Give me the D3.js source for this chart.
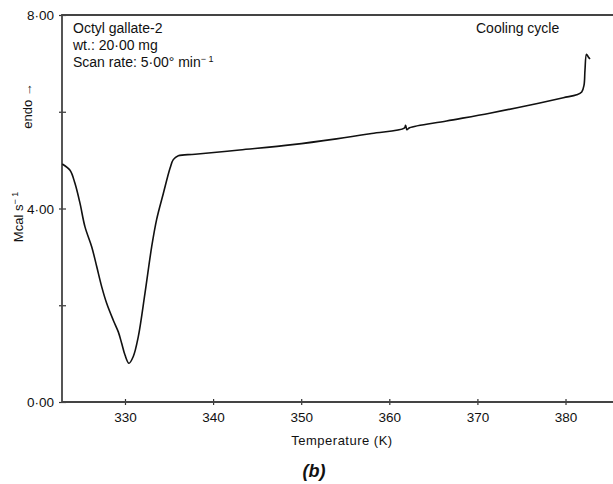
<!DOCTYPE html>
<html>
<head>
<meta charset="utf-8">
<title>Octyl gallate-2 cooling cycle</title>
<script src="https://cdnjs.cloudflare.com/ajax/libs/d3/7.8.5/d3.min.js"></script>
<style>
  body { margin: 0; background: #fff; }
  svg text { font-family: "Liberation Sans", Arial, Helvetica, sans-serif; fill: #111; }
  .axis text { font-size: 13.5px; }
  .axis line { stroke: #333; stroke-width: 1.2px; }
  .frame { stroke: #444; stroke-width: 1.8px; fill: none; }
  .line { fill: none; stroke: #111; stroke-width: 1.6px; }
</style>
</head>
<body>
<svg id="chart" width="613" height="484"></svg>
<script>

// DSC trace (temperature in K, signal in Mcal/s)
var temps = [322.88, 323.76, 324.32, 324.89, 325.46, 326.22, 326.79, 327.36, 327.92, 328.67,
             329.24, 329.63, 330.00, 330.45, 330.94, 331.51, 332.27, 333.03, 333.60, 334.35,
             335.11, 335.48, 336.05, 337.95, 343.00, 349.00, 354.00, 358.00, 361.70, 361.85,
             362.00, 362.30, 366.50, 371.40, 376.00, 379.75, 381.27, 381.84, 382.10, 382.21,
             382.38, 382.59, 382.78];
var signal = [4.92, 4.79, 4.52, 4.11, 3.62, 3.21, 2.80, 2.38, 2.04, 1.69,
              1.45, 1.21, 0.97, 0.80, 0.94, 1.35, 2.25, 3.21, 3.78, 4.31,
              4.83, 5.01, 5.09, 5.12, 5.21, 5.32, 5.44, 5.55, 5.66, 5.72,
              5.63, 5.67, 5.81, 5.97, 6.14, 6.29, 6.35, 6.41, 6.55, 6.86,
              7.19, 7.13, 7.09];

var xTicks = [330, 340, 350, 360, 370, 380];
var yTicks = [0, 2, 4, 6, 8];
var yLabelled = [0, 4, 8];
var infoLines = ["Octyl gallate-2", "wt.: 20\u00b700 mg", "Scan rate: 5\u00b700\u00b0 min"];

var svg = d3.select("svg"),
    margin = {top: 15, right: 0, bottom: 82, left: 62},
    width = svg.attr("width") - margin.left - margin.right,
    height = svg.attr("height") - margin.top - margin.bottom,
    g = svg.append("g").attr("transform", "translate(" + margin.left + "," + margin.top + ")");

var x = d3.scaleLinear().domain([322.85, 385.39]).range([0, width]),
    y = d3.scaleLinear().domain([0, 8]).range([height, 0]);

var dot = function(v) { return d3.format(".2f")(v).replace(".", "\u00b7"); };

// x axis
var xa = g.append("g")
    .attr("class", "axis")
    .attr("transform", "translate(0," + height + ")")
    .call(d3.axisBottom(x).tickValues(xTicks).tickSize(3).tickPadding(7).tickFormat(d3.format("d")));
xa.select(".domain").remove();
xa.selectAll(".tick line").attr("y1", -3).attr("y2", 3);

// y axis
var ya = g.append("g")
    .attr("class", "axis")
    .call(d3.axisLeft(y).tickValues(yTicks).tickSize(3).tickPadding(5)
      .tickFormat(function(d) { return yLabelled.indexOf(d) >= 0 ? dot(d) : ""; }));
ya.select(".domain").remove();
ya.selectAll(".tick line").attr("x1", -3).attr("x2", 4);
ya.selectAll(".tick text").attr("dy", "0.36em");

// frame: left, bottom and top lines
g.append("path")
    .attr("class", "frame")
    .attr("d", "M" + width + ",0H0V" + height + "H" + width);

// trace
var line = d3.line()
    .curve(d3.curveCatmullRom.alpha(0.5))
    .x(function(d, i) { return x(temps[i]); })
    .y(function(d) { return y(d); });

g.append("path")
    .datum(signal)
    .attr("class", "line")
    .attr("d", line);

// annotations
var info = g.append("text")
    .attr("x", 11)
    .attr("y", 18)
    .style("font-size", "14px");
infoLines.forEach(function(t, i) {
  info.append("tspan").attr("x", 11).attr("dy", i === 0 ? 0 : 17).text(t);
});
info.append("tspan").attr("dy", -5).style("font-size", "9px").text("\u2212 1");

g.append("text")
    .attr("x", 414)
    .attr("y", 18)
    .style("font-size", "14px")
    .text("Cooling cycle");

// axis titles
svg.append("text")
    .attr("text-anchor", "middle")
    .attr("x", 342)
    .attr("y", 445)
    .style("font-size", "13px")
    .style("letter-spacing", "0.5px")
    .text("Temperature (K)");

var ylab = svg.append("text")
    .attr("transform", "translate(23,217) rotate(-90)")
    .attr("text-anchor", "middle")
    .style("font-size", "13px");
ylab.append("tspan").text("Mcal s");
ylab.append("tspan").attr("dy", -5).style("font-size", "9px").text("\u2212 1");

svg.append("text")
    .attr("transform", "translate(32,106) rotate(-90)")
    .attr("text-anchor", "middle")
    .style("font-size", "13px")
    .text("endo \u2192");

svg.append("text")
    .attr("text-anchor", "middle")
    .attr("x", 314)
    .attr("y", 477)
    .style("font-size", "18px")
    .style("font-weight", "bold")
    .style("font-style", "italic")
    .text("(b)");

</script>
</body>
</html>
